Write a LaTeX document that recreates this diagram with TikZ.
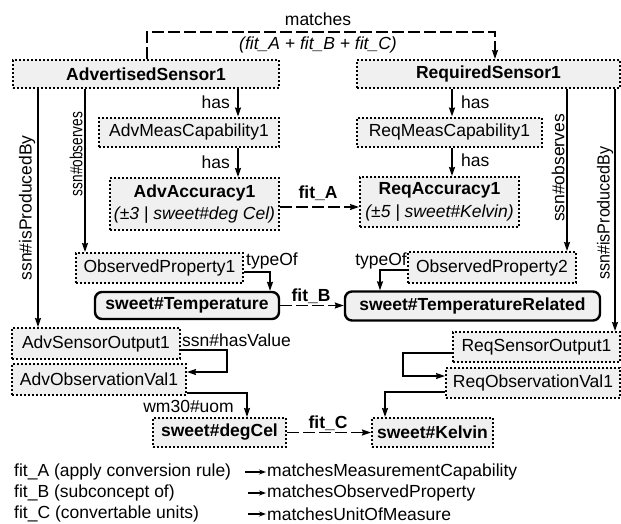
\documentclass[tikz,border=0pt]{standalone}
\usepackage{fontspec}
\setmainfont{Liberation Sans}
\usetikzlibrary{arrows.meta,calc}
\definecolor{boxfill}{RGB}{240,240,240}
\newcommand\myfs{\fontsize{17.5}{22.5}\selectfont}
\tikzset{
  every node/.style={font=\myfs},
  dbox/.style={draw, line width=2pt, dash pattern=on 2pt off 2pt, fill=boxfill, inner sep=0pt, align=center},
  rbox/.style={draw, line width=2.4pt, rounded corners=7pt, fill=boxfill, inner sep=0pt, font=\myfs\bfseries},
  conn/.style={line width=1.5pt, -{Stealth[length=9pt,width=6pt,inset=1pt]}},
  dconn/.style={line width=1.5pt, dash pattern=on 12pt off 4pt, -{Stealth[length=9pt,width=6pt,inset=1pt]}},
  lbl/.style={inner sep=1pt},
  legarrow/.style={line width=1.2pt, -{Stealth[length=7pt,width=5pt]}}
}
\begin{document}
\begin{tikzpicture}[x=1pt,y=-1pt]
\useasboundingbox (0,0) rectangle (621,523);
% boxes
\node[dbox, minimum width=266pt, minimum height=28pt, font=\myfs\bfseries] (AS) at (146,74) {AdvertisedSensor1};
\node[dbox, minimum width=263pt, minimum height=28pt, font=\myfs\bfseries] (RS) at (488.5,74) {RequiredSensor1};
\node[dbox, minimum width=180pt, minimum height=29pt] (AMC) at (189,132) {AdvMeasCapability1};
\node[dbox, minimum width=185pt, minimum height=29pt] (RMC) at (449.5,132) {ReqMeasCapability1};
\node[dbox, minimum width=169pt, minimum height=52pt] (AA) at (194.5,204) {\textbf{AdvAccuracy1}\\\textit{(±3 | sweet\#deg Cel)}};
\node[dbox, minimum width=159pt, minimum height=50pt] (RA) at (439.5,202) {\textbf{ReqAccuracy1}\\\textit{(±5 | sweet\#Kelvin)}};
\node[dbox, minimum width=167pt, minimum height=30pt] (OP1) at (159.5,268) {ObservedProperty1};
\node[dbox, minimum width=168pt, minimum height=31pt] (OP2) at (492,267.5) {ObservedProperty2};
\node[rbox, minimum width=184pt, minimum height=27pt] (ST) at (187,305.5) {sweet\#Temperature};
\node[rbox, minimum width=255pt, minimum height=29pt] (STR) at (472.5,306) {sweet\#TemperatureRelated};
\node[dbox, minimum width=168pt, minimum height=31pt] (ASO) at (96,343.5) {AdvSensorOutput1};
\node[dbox, minimum width=174pt, minimum height=31pt] (AOV) at (99,379.5) {AdvObservationVal1};
\node[dbox, minimum width=167pt, minimum height=30pt] (RSO) at (536.5,347) {ReqSensorOutput1};
\node[dbox, minimum width=174pt, minimum height=30pt] (ROV) at (533,383) {ReqObservationVal1};
\node[dbox, minimum width=133pt, minimum height=29pt, font=\myfs\bfseries] (DC) at (219.5,432.5) {sweet\#degCel};
\node[dbox, minimum width=121pt, minimum height=29pt, font=\myfs\bfseries] (K) at (432.5,432.5) {sweet\#Kelvin};
% helper x positions
\coordinate (xm1) at (147,32);
\coordinate (xm2) at (495,32);
\coordinate (xhl) at (238,0);
\coordinate (xhr) at (452,0);
\coordinate (xobl) at (85,0);
\coordinate (xpbl) at (38,0);
\coordinate (xobr) at (567,0);
\coordinate (xpbr) at (615,0);
% matches
\draw[dconn] (AS.north -| xm1) -- (xm1) -- (xm2) -- (RS.north -| xm2);
\node[lbl] (mt) at (318,19) {matches};
\node[lbl] (mf) at (318,45) {\textit{(fit\_A + fit\_B + fit\_C)}};
% has
\draw[conn] (AS.south -| xhl) -- (AMC.north -| xhl);
\draw[conn] (AMC.south -| xhl) -- (AA.north -| xhl);
\node[lbl, anchor=east] (h1) at (231,102) {has};
\node[lbl, anchor=east] (h2) at (231,162) {has};
\draw[conn] (RS.south -| xhr) -- (RMC.north -| xhr);
\draw[conn] (RMC.south -| xhr) -- (RA.north -| xhr);
\node[lbl, anchor=west] (h3) at (460,102) {has};
\node[lbl, anchor=west] (h4) at (460,160) {has};
% observes / producedBy
\draw[conn] (AS.south -| xobl) -- (OP1.north -| xobl);
\draw[conn] (AS.south -| xpbl) -- (ASO.north -| xpbl);
\draw[conn] (RS.south -| xobr) -- (OP2.north -| xobr);
\draw[conn] (RS.south -| xpbr) -- (RSO.north -| xpbr);
\node[lbl, rotate=90] (o1) at (76,154) {\scalebox{0.78}[1]{ssn\#observes}};
\node[lbl, rotate=90] (p1) at (27,208) {ssn\#isProducedBy};
\node[lbl, rotate=90] (o2) at (558,168) {ssn\#observes};
\node[lbl, rotate=90] (p2) at (605,213) {\scalebox{0.92}[1]{ssn\#isProducedBy}};
% fits
\draw[dconn] (AA.east |- 0,207) -- (RA.west |- 0,207);
\node[lbl, font=\myfs\bfseries] (fa) at (318,193) {fit\_A};
\draw[dconn] (ST.east) -- (ST.east -| STR.west);
\node[lbl, font=\myfs\bfseries] (fb) at (311,296) {fit\_B};
\draw[dconn] (DC.east) -- (K.west);
\node[lbl, font=\myfs\bfseries] (fc) at (328,423) {fit\_C};
% typeOf
\coordinate (t1) at (270,272);
\draw[conn] (OP1.east |- t1) -- (t1) -- (ST.north -| t1);
\node[lbl, anchor=west] (tl1) at (245,261) {typeOf};
\coordinate (t2) at (380,270);
\draw[conn] (OP2.west |- t2) -- (t2) -- (STR.north -| t2);
\node[lbl, anchor=east] (tl2) at (408,261) {typeOf};
% hasValue
\coordinate (hv1) at (227,350);
\coordinate (hv2) at (227,372);
\draw[conn] (ASO.east |- hv1) -- (hv1) -- (hv2) -- (AOV.east |- hv2);
\node[lbl, anchor=west] (hvl) at (181,340) {ssn\#hasValue};
\coordinate (u1) at (247,393);
\draw[conn] (AOV.east |- u1) -- (u1) -- (DC.north -| u1);
\node[lbl, anchor=east] (ul) at (235,406) {wm30\#uom};
\coordinate (r1) at (403,353);
\coordinate (r2) at (403,376);
\draw[conn] (RSO.west |- r1) -- (r1) -- (r2) -- (ROV.west |- r2);
\coordinate (r3) at (385,392);
\draw[conn] (ROV.west |- r3) -- (r3) -- (K.north -| r3);
% legend
\node[lbl, anchor=west] (la) at (13,472) {fit\_A (apply conversion rule)};
\node[lbl, anchor=west] (lb) at (13,493) {fit\_B (subconcept of)};
\node[lbl, anchor=west] (lc) at (13,514) {fit\_C (convertable units)};
\node[lbl, anchor=west] (ra) at (266,472) {matchesMeasurementCapability};
\node[lbl, anchor=west] (rb) at (266,493) {matchesObservedProperty};
\node[lbl, anchor=west] (rc) at (266,514) {matchesUnitOfMeasure};
\draw[legarrow] (245,472) -- (ra.west);
\draw[legarrow] (248,493) -- (rb.west);
\draw[legarrow] (248,514) -- (rc.west);
\end{tikzpicture}
\end{document}
